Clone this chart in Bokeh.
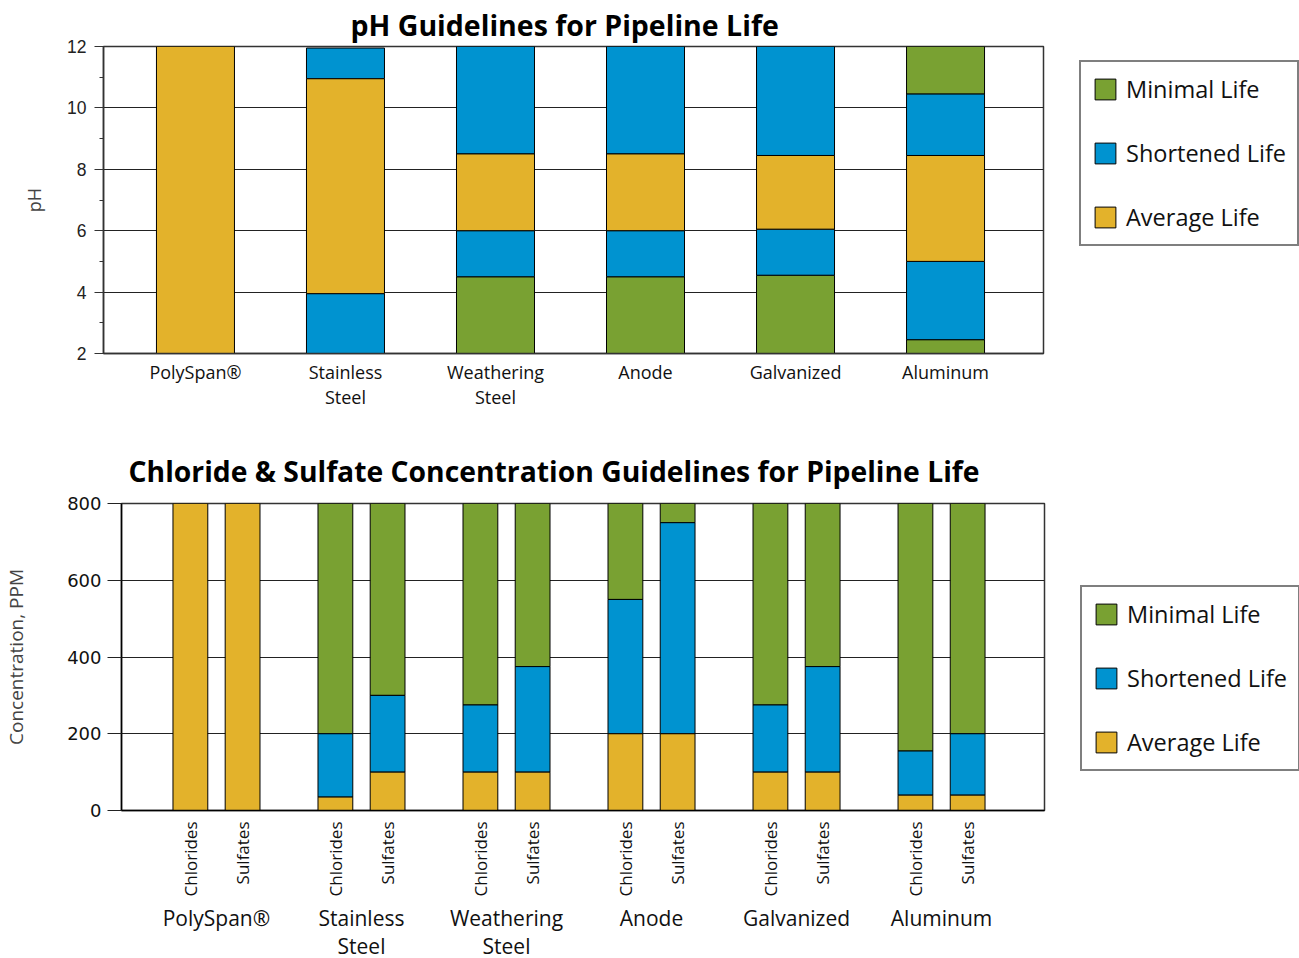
import math
from bokeh.plotting import figure
from bokeh.models import (ColumnDataSource, FixedTicker, LinearAxis, Legend,
                          LegendItem, Range1d)
from bokeh.embed import file_html
from bokeh.resources import INLINE

# ---------------- data ----------------
life_classes = ["Minimal Life", "Shortened Life", "Average Life"]
life_colors = ["#79A132", "#0093D0", "#E3B22B"]

materials = ["PolySpan®", "Stainless Steel", "Weathering Steel",
             "Anode", "Galvanized", "Aluminum"]
material_labels = ["PolySpan®", "Stainless\nSteel", "Weathering\nSteel",
                   "Anode", "Galvanized", "Aluminum"]

# pH chart: one entry per stacked segment
ph_ticks = [2, 4, 6, 8, 10, 12]
ph_minor_ticks = [3, 5, 7, 9, 11]
ph_seg_material = ["PolySpan®",
                   "Stainless Steel", "Stainless Steel", "Stainless Steel",
                   "Weathering Steel", "Weathering Steel", "Weathering Steel", "Weathering Steel",
                   "Anode", "Anode", "Anode", "Anode",
                   "Galvanized", "Galvanized", "Galvanized", "Galvanized",
                   "Aluminum", "Aluminum", "Aluminum", "Aluminum", "Aluminum"]
ph_seg_bottom = [2,
                 2, 3.95, 10.95,
                 2, 4.5, 6.0, 8.5,
                 2, 4.5, 6.0, 8.5,
                 2, 4.55, 6.05, 8.45,
                 2, 2.45, 5.0, 8.45, 10.45]
ph_seg_top = [12,
              3.95, 10.95, 11.95,
              4.5, 6.0, 8.5, 12,
              4.5, 6.0, 8.5, 12,
              4.55, 6.05, 8.45, 12,
              2.45, 5.0, 8.45, 10.45, 12]
ph_seg_life = ["Average Life",
               "Shortened Life", "Average Life", "Shortened Life",
               "Minimal Life", "Shortened Life", "Average Life", "Shortened Life",
               "Minimal Life", "Shortened Life", "Average Life", "Shortened Life",
               "Minimal Life", "Shortened Life", "Average Life", "Shortened Life",
               "Minimal Life", "Shortened Life", "Average Life", "Shortened Life", "Minimal Life"]

# Concentration chart: one entry per stacked segment
conc_ions = ["Chlorides", "Sulfates"]
conc_ticks = [0, 200, 400, 600, 800]
conc_seg_material = (["PolySpan®"] * 2 + ["Stainless Steel"] * 6 + ["Weathering Steel"] * 6
                     + ["Anode"] * 6 + ["Galvanized"] * 6 + ["Aluminum"] * 6)
conc_seg_ion = (["Chlorides", "Sulfates"]
                + ["Chlorides"] * 3 + ["Sulfates"] * 3
                + ["Chlorides"] * 3 + ["Sulfates"] * 3
                + ["Chlorides"] * 3 + ["Sulfates"] * 3
                + ["Chlorides"] * 3 + ["Sulfates"] * 3
                + ["Chlorides"] * 3 + ["Sulfates"] * 3)
conc_seg_bottom = [0, 0,
                   0, 35, 200, 0, 100, 300,
                   0, 100, 275, 0, 100, 375,
                   0, 200, 550, 0, 200, 750,
                   0, 100, 275, 0, 100, 375,
                   0, 40, 155, 0, 40, 200]
conc_seg_top = [800, 800,
                35, 200, 800, 100, 300, 800,
                100, 275, 800, 100, 375, 800,
                200, 550, 800, 200, 750, 800,
                100, 275, 800, 100, 375, 800,
                40, 155, 800, 40, 200, 800]
conc_seg_life = (["Average Life", "Average Life"]
                 + ["Average Life", "Shortened Life", "Minimal Life"] * 10)

# ---------------- helpers ----------------
FONT = "Open Sans"
ION_OFFSET = {"Chlorides": -0.18, "Sulfates": 0.18}


def style_legend(p, renderers, vy):
    items = [LegendItem(label=lab, renderers=[r]) for lab, r in zip(life_classes, renderers)]
    lg = Legend(items=items, location=(36, vy), margin=18, padding=11, spacing=32,
                glyph_width=26, glyph_height=26, label_standoff=8, label_height=26,
                label_text_font=FONT, label_text_font_size="23.5px", label_text_color="#111",
                border_line_color="black", border_line_width=2,
                background_fill_color="white", background_fill_alpha=1.0)
    p.add_layout(lg, "right")


def common_style(p):
    p.toolbar_location = None
    p.background_fill_color = "white"
    p.border_fill_color = "white"
    p.outline_line_color = "#333"
    p.outline_line_width = 1.5
    p.xgrid.grid_line_color = None
    p.ygrid.grid_line_color = "#222"
    p.ygrid.grid_line_width = 1
    p.title.text_font = FONT
    p.title.text_font_style = "bold"
    p.title.text_color = "black"
    p.title.align = "left"
    p.title.text_font_size = "28.5px"


# ---------------- pH chart ----------------
p1 = figure(frame_width=940, frame_height=307, min_border_left=103, min_border_top=46,
            min_border_bottom=80, min_border_right=0,
            x_range=Range1d(0.387, 6.653), y_range=Range1d(2, 12),
            output_backend="svg", toolbar_location=None,
            title="pH Guidelines for Pipeline Life")
common_style(p1)
p1.title.offset = 247
p1.title.standoff = 6

ph_renderers = []
for life, color in zip(life_classes, life_colors):
    idx = [i for i, l in enumerate(ph_seg_life) if l == life]
    src = ColumnDataSource(dict(
        x=[materials.index(ph_seg_material[i]) + 1 for i in idx],
        bottom=[ph_seg_bottom[i] for i in idx],
        top=[ph_seg_top[i] for i in idx]))
    r = p1.vbar(x="x", bottom="bottom", top="top", width=0.52, source=src,
                fill_color=color, line_color="black", line_width=1)
    ph_renderers.append(r)

p1.yaxis.ticker = FixedTicker(ticks=ph_ticks, minor_ticks=ph_minor_ticks)
p1.yaxis.major_label_text_font = "Liberation Sans"
p1.yaxis.major_label_text_font_size = "17.5px"
p1.yaxis.major_label_text_color = "#222"
p1.yaxis.major_label_standoff = 8
p1.yaxis.major_tick_out = 9
p1.yaxis.major_tick_in = 0
p1.yaxis.minor_tick_out = 4
p1.yaxis.minor_tick_in = 0
p1.yaxis.axis_line_color = "#333"
p1.yaxis.axis_line_width = 1.5
p1.yaxis.major_tick_line_color = "#333"
p1.yaxis.minor_tick_line_color = "#333"
p1.yaxis.axis_label = "pH"
p1.yaxis.axis_label_text_font = FONT
p1.yaxis.axis_label_text_font_size = "18px"
p1.yaxis.axis_label_text_font_style = "normal"
p1.yaxis.axis_label_standoff = 18

p1.xaxis.ticker = FixedTicker(ticks=[1, 2, 3, 4, 5, 6], minor_ticks=[])
p1.xaxis.major_label_overrides = {i + 1: lab for i, lab in enumerate(material_labels)}
p1.xaxis.major_label_text_font = FONT
p1.xaxis.major_label_text_font_size = "18px"
p1.xaxis.major_label_text_color = "#111"
p1.xaxis.major_label_text_line_height = 1.05
p1.xaxis.major_label_standoff = 0
p1.xaxis.major_tick_line_color = None
p1.xaxis.minor_tick_line_color = None
p1.xaxis.axis_line_color = "#333"
p1.xaxis.axis_line_width = 1.5

style_legend(p1, ph_renderers, 107)

# ---------------- concentration chart ----------------
p2 = figure(frame_width=923, frame_height=307, min_border_left=120, min_border_top=70,
            min_border_bottom=146, min_border_right=0,
            x_range=Range1d(0.345, 6.71), y_range=Range1d(0, 800),
            output_backend="svg", toolbar_location=None,
            title="Chloride & Sulfate Concentration Guidelines for Pipeline Life")
common_style(p2)
p2.title.offset = 7
p2.title.text_font_size = "28.3px"
p2.title.standoff = 27

conc_renderers = []
for life, color in zip(life_classes, life_colors):
    idx = [i for i, l in enumerate(conc_seg_life) if l == life]
    src = ColumnDataSource(dict(
        x=[materials.index(conc_seg_material[i]) + 1 + ION_OFFSET[conc_seg_ion[i]] for i in idx],
        bottom=[conc_seg_bottom[i] for i in idx],
        top=[conc_seg_top[i] for i in idx]))
    r = p2.vbar(x="x", bottom="bottom", top="top", width=0.24, source=src,
                fill_color=color, line_color="black", line_width=1)
    conc_renderers.append(r)

p2.yaxis.ticker = FixedTicker(ticks=conc_ticks, minor_ticks=[])
p2.yaxis.major_label_text_font = "DejaVu Sans"
p2.yaxis.major_label_text_font_size = "18px"
p2.yaxis.major_label_text_color = "#111"
p2.yaxis.major_label_standoff = 6
p2.yaxis.major_tick_out = 14
p2.yaxis.major_tick_in = 0
p2.yaxis.axis_line_color = "black"
p2.yaxis.axis_line_width = 1.5
p2.yaxis.major_tick_line_color = "#222"
p2.yaxis.axis_label = "Concentration, PPM"
p2.yaxis.axis_label_text_font = FONT
p2.yaxis.axis_label_text_font_size = "19px"
p2.yaxis.axis_label_text_font_style = "normal"
p2.yaxis.axis_label_standoff = 35

bar_ticks = []
bar_labels = {}
for g in range(len(materials)):
    for ion in conc_ions:
        t = g + 1 + ION_OFFSET[ion]
        bar_ticks.append(t)
        bar_labels[t] = ion

p2.xaxis.ticker = FixedTicker(ticks=bar_ticks, minor_ticks=[])
p2.xaxis.major_label_overrides = bar_labels
p2.xaxis.major_label_orientation = math.pi / 2
p2.xaxis.major_label_text_font = FONT
p2.xaxis.major_label_text_font_size = "17px"
p2.xaxis.major_label_text_color = "#111"
p2.xaxis.major_label_standoff = 5
p2.xaxis.major_tick_line_color = None
p2.xaxis.minor_tick_line_color = None
p2.xaxis.axis_line_color = "black"
p2.xaxis.axis_line_width = 1.5

group_axis = LinearAxis(ticker=FixedTicker(ticks=[1, 2, 3, 4, 5, 6], minor_ticks=[]),
                        major_label_overrides={i + 1: lab for i, lab in enumerate(material_labels)},
                        major_label_text_font=FONT, major_label_text_font_size="21px",
                        major_label_text_color="#111", major_label_text_line_height=1.0,
                        major_label_standoff=-2,
                        axis_line_color=None, major_tick_line_color=None,
                        minor_tick_line_color=None)
p2.add_layout(group_axis, "below")

style_legend(p2, conc_renderers, 39)

open("out.html", "w").write(file_html([p1, p2], INLINE))
